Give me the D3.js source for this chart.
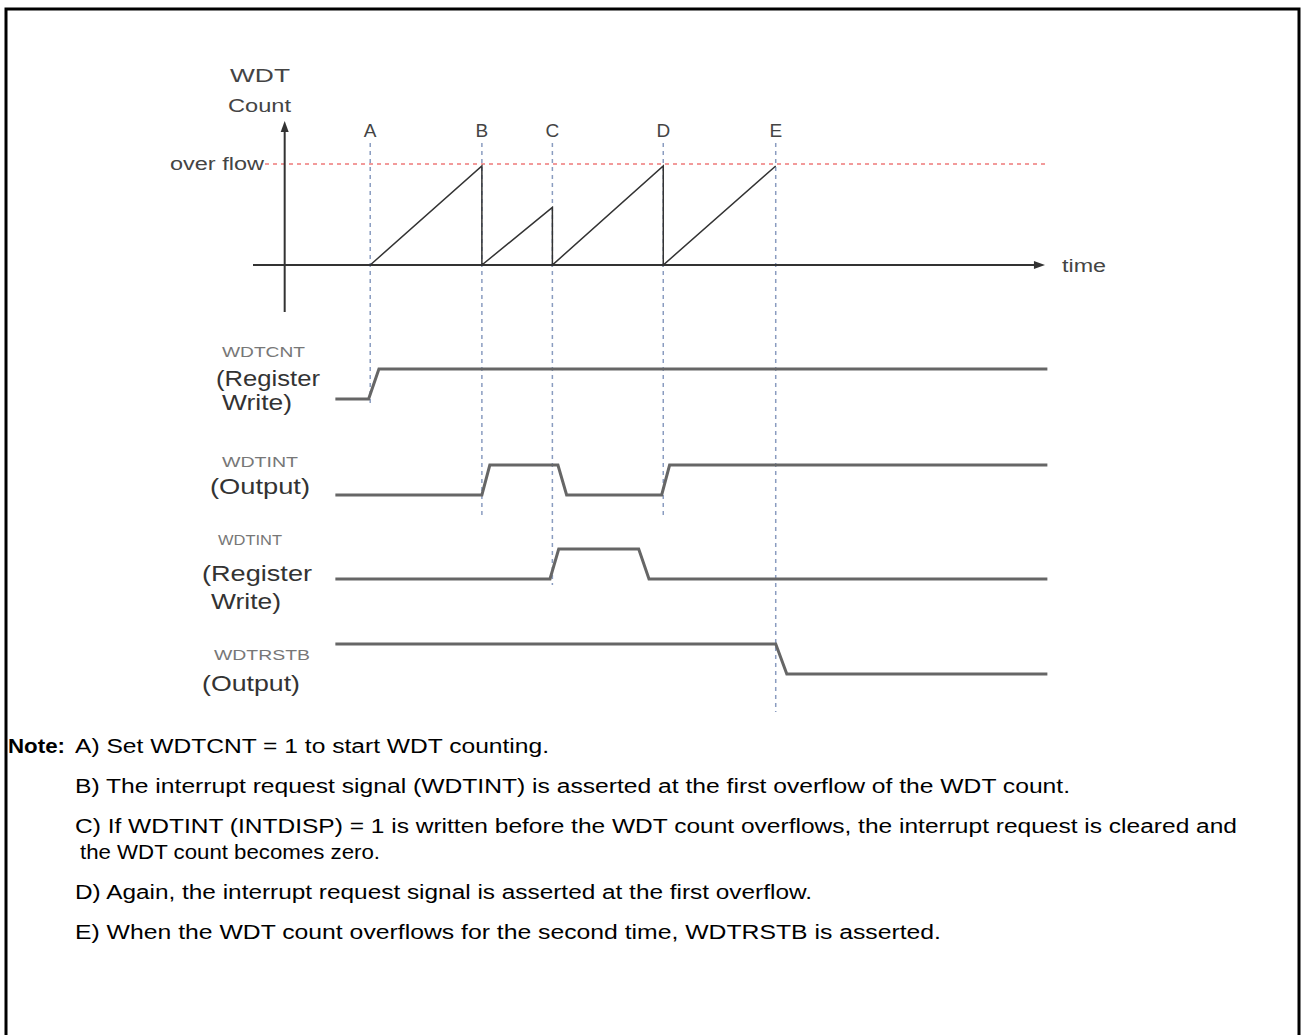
<!DOCTYPE html>
<html>
<head>
<meta charset="utf-8">
<script src="https://cdn.jsdelivr.net/npm/d3@7"></script>
<style>
  body { margin: 0; background: #fff; }
  svg { display: block; }
</style>
</head>
<body>
<div id="chart"></div>
<script>
// event markers on the time axis
const eventNames = ['A', 'B', 'C', 'D', 'E'];
const eventTimes = [14.8, 28.9, 37.8, 51.8, 66.0];

// WDT count sawtooth (overflow = 100)
const countTimes = [14.8, 28.9, 28.9, 37.8, 37.8, 51.8, 51.8, 66.0];
const countValues = [0, 98, 0, 57, 0, 98, 0, 98];

// digital signals: transition times and levels
const signalNames = ['WDTCNT', 'WDTINT', 'WDTINT', 'WDTRSTB'];
const signalSubLabels = [['(Register', 'Write)'], ['(Output)'], ['(Register', 'Write)'], ['(Output)']];
const signalTimes = [
  [10.4, 14.6, 15.9, 100.3],
  [10.4, 28.9, 29.9, 38.5, 39.6, 51.6, 52.6, 100.3],
  [10.4, 37.5, 38.6, 48.7, 50.0, 100.3],
  [10.4, 66.0, 67.4, 100.3]
];
const signalLevels = [
  [0, 0, 1, 1],
  [0, 0, 1, 1, 0, 0, 1, 1],
  [0, 0, 1, 1, 0, 0],
  [1, 1, 0, 0]
];

const noteLines = [
  'A) Set WDTCNT = 1 to start WDT counting.',
  'B) The interrupt request signal (WDTINT) is asserted at the first overflow of the WDT count.',
  'C) If WDTINT (INTDISP) = 1 is written before the WDT count overflows, the interrupt request is cleared and',
  'the WDT count becomes zero.',
  'D) Again, the interrupt request signal is asserted at the first overflow.',
  'E) When the WDT count overflows for the second time, WDTRSTB is asserted.'
];

const width = 1301;
const height = 1035;

const svg = d3.select('#chart').append('svg')
  .attr('width', width)
  .attr('height', height);

// frame
svg.append('path')
  .attr('d', 'M6,1040V9H1299V1040')
  .attr('fill', 'none')
  .attr('stroke', '#000')
  .attr('stroke-width', 3);

const x = d3.scaleLinear().domain([0, 100]).range([253, 1045]);
const yCount = d3.scaleLinear().domain([0, 100]).range([265, 164]);

const labelFont = 'Liberation Sans, Arial, sans-serif';
const textColor = '#444';

// helper for stretched label text
function label(xp, yp, str, len, opts = {}) {
  const t = svg.append('text')
    .attr('x', xp).attr('y', yp)
    .attr('font-family', opts.family || labelFont)
    .attr('font-size', opts.size || 18)
    .attr('fill', opts.fill || textColor)
    .text(str);
  if (len) t.attr('textLength', len).attr('lengthAdjust', 'spacingAndGlyphs');
  if (opts.weight) t.attr('font-weight', opts.weight);
  return t;
}

// overflow line
svg.append('line')
  .attr('x1', 265).attr('x2', 1048)
  .attr('y1', yCount(100)).attr('y2', yCount(100))
  .attr('stroke', '#f29a9a')
  .attr('stroke-width', 2)
  .attr('stroke-dasharray', '4,4');

label(170, yCount(100) + 6, 'over flow', 94);

// event dashed lines and letters
const eventBottoms = [405, 518, 585, 516, 712];
svg.selectAll('.event-line')
  .data(eventTimes)
  .join('line')
  .attr('class', 'event-line')
  .attr('x1', d => x(d)).attr('x2', d => x(d))
  .attr('y1', 143)
  .attr('y2', (d, i) => eventBottoms[i])
  .attr('stroke', '#8a9cc0')
  .attr('stroke-width', 1.5)
  .attr('stroke-dasharray', '4,4');

svg.selectAll('.event-label')
  .data(eventNames)
  .join('text')
  .attr('class', 'event-label')
  .attr('x', (d, i) => x(eventTimes[i]))
  .attr('y', 137)
  .attr('text-anchor', 'middle')
  .attr('font-family', labelFont)
  .attr('font-size', 19)
  .attr('fill', textColor)
  .text(d => d);

// axes
const axisX = x(4.0);
svg.append('line')
  .attr('x1', axisX).attr('x2', axisX)
  .attr('y1', 312).attr('y2', 128)
  .attr('stroke', '#333').attr('stroke-width', 2);
svg.append('path')
  .attr('d', `M${axisX},121L${axisX - 4},132L${axisX + 4},132Z`)
  .attr('fill', '#333');

svg.append('line')
  .attr('x1', x(0)).attr('x2', x(99.2))
  .attr('y1', yCount(0)).attr('y2', yCount(0))
  .attr('stroke', '#333').attr('stroke-width', 2);
svg.append('path')
  .attr('d', `M${x(100)},${yCount(0)}L${x(98.6)},${yCount(0) - 4}L${x(98.6)},${yCount(0) + 4}Z`)
  .attr('fill', '#333');

label(1062, yCount(0) + 7, 'time', 44);
label(230, 82, 'WDT', 60);
label(228, 112, 'Count', 63);

// sawtooth
const countLine = d3.line()
  .x(d => x(d[0]))
  .y(d => yCount(d[1]));
svg.append('path')
  .datum(countTimes.map((t, i) => [t, countValues[i]]))
  .attr('d', countLine)
  .attr('fill', 'none')
  .attr('stroke', '#333')
  .attr('stroke-width', 1.5);

// signal rows
const rowLow = [399, 495, 579, 674];
const nameY = [352, 462, 540, 655];
const nameBox = [[222, 83], [222, 76], [218, 64], [214, 96]];
const subBox = [[[216, 104], [222, 70]], [[210, 100]], [[202, 110], [211, 70]], [[202, 98]]];
const subY = [[386, 410], [494], [581, 609], [691]];

signalNames.forEach((name, i) => {
  const y = d3.scaleLinear().domain([0, 1]).range([rowLow[i], rowLow[i] - 30]);
  const pts = signalTimes[i].map((t, j) => [t, signalLevels[i][j]]);
  svg.append('path')
    .datum(pts)
    .attr('d', d3.line().x(d => x(d[0])).y(d => y(d[1])))
    .attr('fill', 'none')
    .attr('stroke', '#666')
    .attr('stroke-width', 3);

  label(nameBox[i][0], nameY[i] + 5, name, nameBox[i][1], { size: 14, fill: '#777' });

  signalSubLabels[i].forEach((s, k) => {
    label(subBox[i][k][0], subY[i][k], s, subBox[i][k][1], { size: 22, fill: '#333' });
  });
});

// notes
label(8, 753, 'Note:', 57, { size: 20, weight: 'bold', fill: '#000' });

const noteX = [75, 75, 75, 80, 75, 75];
const noteY = [753, 793, 833, 859, 899, 939];
const noteLen = [474, 995, 1162, 300, 737, 866];
noteLines.forEach((s, i) => {
  label(noteX[i], noteY[i], s, noteLen[i], { size: 20, fill: '#000' });
});
</script>
</body>
</html>
